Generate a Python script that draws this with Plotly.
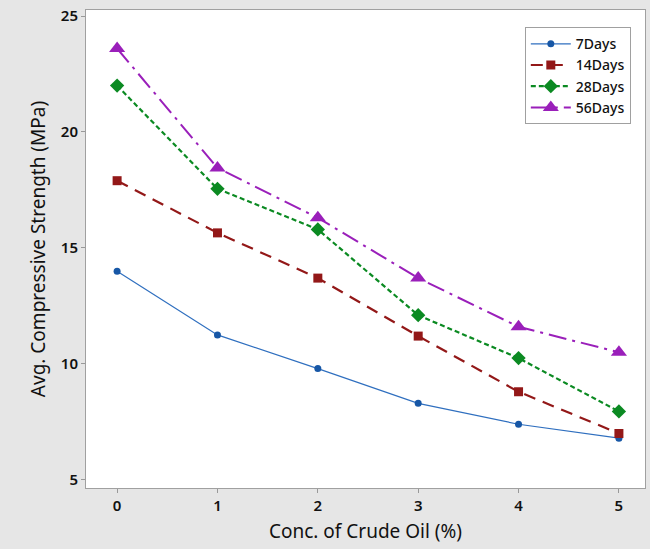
import plotly.graph_objects as go

conc = [0, 1, 2, 3, 4, 5]
days7 = [14.0, 11.25, 9.8, 8.3, 7.4, 6.8]
days14 = [17.9, 15.65, 13.7, 11.2, 8.8, 7.0]
days28 = [22.0, 17.55, 15.8, 12.1, 10.25, 7.95]
days56 = [23.6, 18.45, 16.3, 13.7, 11.6, 10.5]
x_ticks = [0, 1, 2, 3, 4, 5]
y_ticks = [5, 10, 15, 20, 25]

fig = go.Figure()
fig.add_trace(go.Scatter(x=conc, y=days7, name="7Days", mode="lines+markers",
                         line=dict(color="#2f6fbf", width=1.2, dash="solid"),
                         marker=dict(symbol="circle", size=7, color="#1757a6")))
fig.add_trace(go.Scatter(x=conc, y=days14, name="14Days", mode="lines+markers",
                         line=dict(color="#931818", width=2.2, dash="12px,8px"),
                         marker=dict(symbol="square", size=9, color="#931818")))
fig.add_trace(go.Scatter(x=conc, y=days28, name="28Days", mode="lines+markers",
                         line=dict(color="#0b8a22", width=2.2, dash="5px,3px"),
                         marker=dict(symbol="diamond", size=11, color="#0b8a22")))
fig.add_trace(go.Scatter(x=conc, y=days56, name="56Days", mode="lines+markers",
                         line=dict(color="#9a1fba", width=2, dash="18px,6px,3px,6px"),
                         marker=dict(symbol="triangle-up", size=14, color="#9a1fba")))

font_family = "Noto Sans, Open Sans, DejaVu Sans"
fig.update_layout(
    width=650, height=549,
    margin=dict(l=86, r=5, t=10, b=61),
    paper_bgcolor="#e6e6e6",
    plot_bgcolor="white",
    font=dict(family=font_family, color="#111111"),
    showlegend=True,
    legend=dict(x=0.785, y=0.964, xanchor="left", yanchor="top",
                bgcolor="white", bordercolor="#a0a0a0", borderwidth=1,
                font=dict(size=14, family=font_family, weight=500), tracegroupgap=0,
                itemwidth=40),
    xaxis=dict(range=[-0.31, 5.26], tickvals=x_ticks, ticks="outside", ticklen=4,
               tickcolor="#999999", showgrid=False, zeroline=False, automargin=False,
               showline=True, linecolor="#a0a0a0", mirror=True,
               tickfont=dict(size=15, family=font_family, color="#111111", weight=600),
               title=dict(text="Conc. of Crude Oil (%)", font=dict(size=19), standoff=10)),
    yaxis=dict(range=[4.65, 25.26], tickvals=y_ticks, ticks="outside", ticklen=4,
               tickcolor="#999999", showgrid=False, zeroline=False, automargin=False,
               showline=True, linecolor="#a0a0a0", mirror=True,
               tickfont=dict(size=15, family=font_family, color="#111111", weight=600),
               title=dict(text="Avg. Compressive Strength (MPa)", font=dict(size=19), standoff=10)),
)
fig.write_html(
    "out.html",
    config={"displayModeBar": False},
    post_script="document.body.style.margin='0';document.body.style.background='#e6e6e6';",
)
